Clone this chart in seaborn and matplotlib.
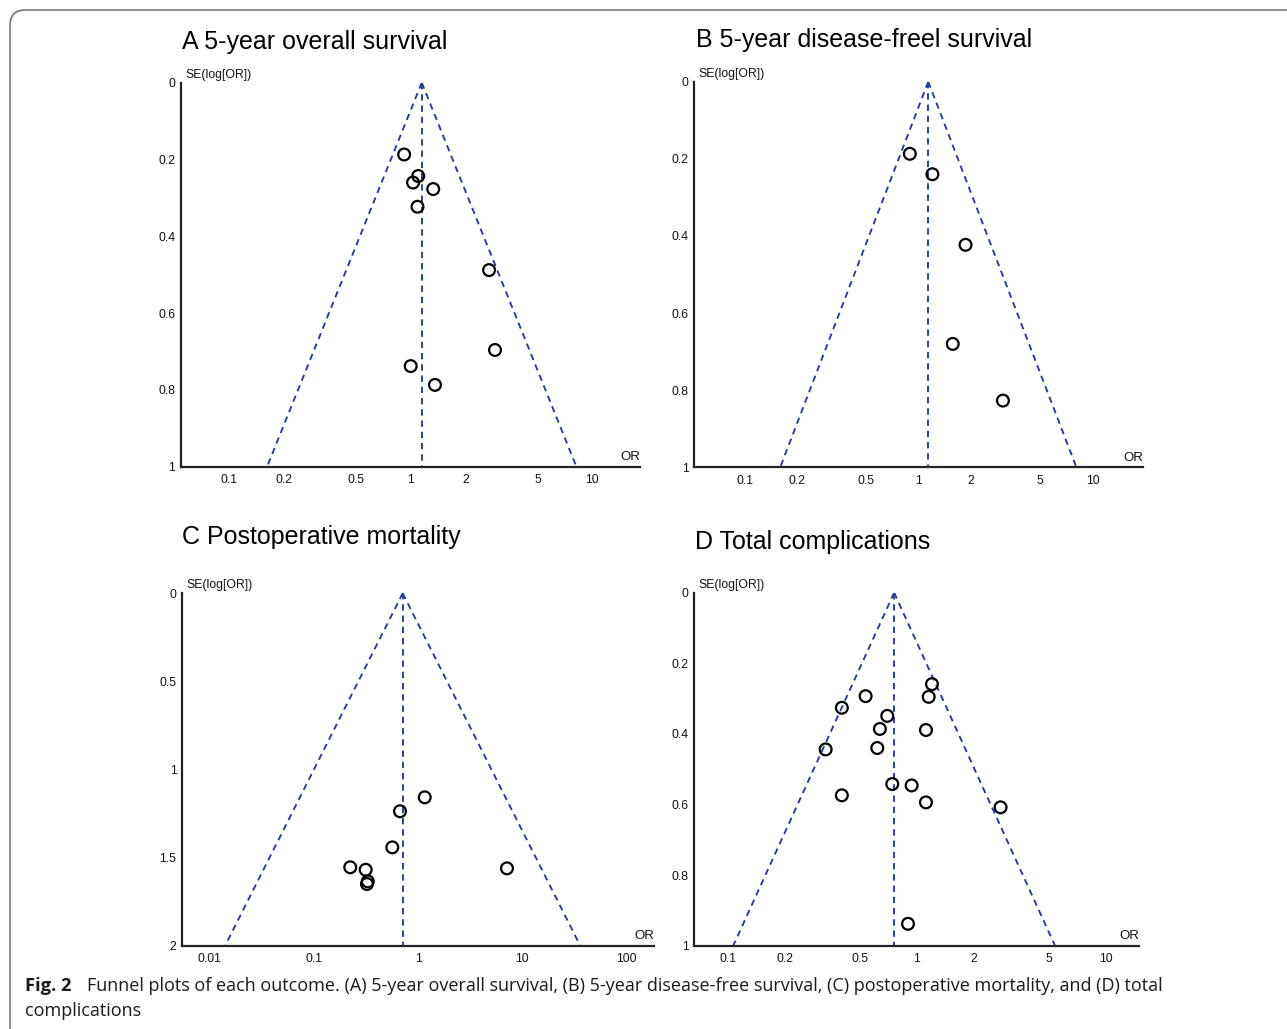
import matplotlib
matplotlib.use("Agg")
import matplotlib.pyplot as plt
from matplotlib.patches import FancyBboxPatch
import numpy as np
import pandas as pd
import seaborn as sns

# ---- data (OR, SE of log OR) ----
A_OR = [0.92, 1.10, 1.03, 1.33, 1.09, 2.70, 2.91, 1.00, 1.36]
A_SE = [0.187, 0.243, 0.260, 0.277, 0.323, 0.488, 0.696, 0.738, 0.787]
A_POOLED = 1.15

B_OR = [0.89, 1.20, 1.86, 1.57, 3.05]
B_SE = [0.187, 0.240, 0.423, 0.680, 0.827]
B_POOLED = 1.136

C_OR = [1.16, 0.672, 0.567, 0.224, 0.315, 0.330, 0.324, 7.13]
C_SE = [1.158, 1.237, 1.442, 1.555, 1.569, 1.635, 1.650, 1.561]
C_POOLED = 0.713

D_OR = [1.205, 0.537, 1.158, 0.402, 0.699, 0.639, 1.12, 0.330, 0.619,
        0.743, 0.941, 0.402, 1.12, 2.78, 0.90]
D_SE = [0.259, 0.293, 0.295, 0.326, 0.349, 0.386, 0.389, 0.444, 0.440,
        0.542, 0.546, 0.574, 0.594, 0.608, 0.938]
D_POOLED = 0.76

TITLES = ["A 5-year overall survival", "B 5-year disease-freel survival",
          "C Postoperative mortality", "D Total complications"]

OR_TICKS = [0.1, 0.2, 0.5, 1, 2, 5, 10]
OR_LABELS = ["0.1", "0.2", "0.5", "1", "2", "5", "10"]
OR_TICKS_C = [0.01, 0.1, 1, 10, 100]
OR_LABELS_C = ["0.01", "0.1", "1", "10", "100"]
SE_TICKS = [0, 0.2, 0.4, 0.6, 0.8, 1]
SE_LABELS = ["0", "0.2", "0.4", "0.6", "0.8", "1"]
SE_TICKS_C = [0, 0.5, 1, 1.5, 2]
SE_LABELS_C = ["0", "0.5", "1", "1.5", "2"]

CAPTION = ("Funnel plots of each outcome. (A) 5-year overall survival, "
           "(B) 5-year disease-free survival, (C) postoperative mortality, "
           "and (D) total")

FUNNEL_COLOR = "#1f3c9e"
AXIS_COLOR = "#222222"
W, H = 1287, 1029

sns.set_theme(style="white")
plt.rcParams["font.family"] = ["Liberation Sans", "DejaVu Sans"]

fig = plt.figure(figsize=(W / 100, H / 100), dpi=100)


def px_rect(x0, y0, x1, y1):
    return [x0 / W, 1 - y1 / H, (x1 - x0) / W, (y1 - y0) / H]


panels = [
    dict(OR=A_OR, SE=A_SE, pooled=A_POOLED, semax=1.0,
         xt=OR_TICKS, xl=OR_LABELS, yt=SE_TICKS, yl=SE_LABELS,
         xlim=(10 ** -1.266, 10 ** 1.262), rect=px_rect(180.7, 82.7, 640, 466.7),
         tpos=(182, 49.5)),
    dict(OR=B_OR, SE=B_SE, pooled=B_POOLED, semax=1.0,
         xt=OR_TICKS, xl=OR_LABELS, yt=SE_TICKS, yl=SE_LABELS,
         xlim=(10 ** -1.291, 10 ** 1.291), rect=px_rect(694, 81.7, 1143.3, 467.3),
         tpos=(696, 46.5)),
    dict(OR=C_OR, SE=C_SE, pooled=C_POOLED, semax=2.0,
         xt=OR_TICKS_C, xl=OR_LABELS_C, yt=SE_TICKS_C, yl=SE_LABELS_C,
         xlim=(10 ** -2.263, 10 ** 2.263), rect=px_rect(182, 593.3, 654, 945.7),
         tpos=(182, 544)),
    dict(OR=D_OR, SE=D_SE, pooled=D_POOLED, semax=1.0,
         xt=OR_TICKS, xl=OR_LABELS, yt=SE_TICKS, yl=SE_LABELS,
         xlim=(10 ** -1.178, 10 ** 1.178), rect=px_rect(694, 592.7, 1139.3, 945.7),
         tpos=(695, 548.5)),
]

for title, p in zip(TITLES, panels):
    ax = fig.add_axes(p["rect"])
    df = pd.DataFrame({"OR": p["OR"], "SE": p["SE"]})

    # funnel: pooled estimate +/- 1.96 SE on the log scale
    se = np.array([0.0, p["semax"]])
    lo = p["pooled"] * np.exp(-1.96 * se)
    hi = p["pooled"] * np.exp(1.96 * se)
    dash = (0, (3.4, 2.6))
    for xs in (lo, hi, [p["pooled"], p["pooled"]]):
        ax.plot(xs, se, color=FUNNEL_COLOR, lw=1.35, ls=dash, zorder=2)

    sns.scatterplot(data=df, x="OR", y="SE", ax=ax, marker="o", s=72,
                    facecolor="none", edgecolor="black", linewidth=1.6,
                    zorder=3)

    ax.set_xscale("log")
    ax.set_xlim(*p["xlim"])
    ax.set_ylim(p["semax"], 0)
    ax.set_xticks(p["xt"])
    ax.set_xticklabels(p["xl"])
    ax.xaxis.set_minor_locator(matplotlib.ticker.NullLocator())
    ax.set_yticks(p["yt"])
    ax.set_yticklabels(p["yl"])
    ax.set_xlabel("")
    ax.set_ylabel("")
    ax.grid(False)
    ax.set_facecolor("none")

    for side in ["top", "right"]:
        ax.spines[side].set_visible(False)
    for side in ["left", "bottom"]:
        ax.spines[side].set_color(AXIS_COLOR)
        ax.spines[side].set_linewidth(1.6)
    ax.tick_params(axis="both", direction="inout", length=6, width=1.2,
                   colors=AXIS_COLOR, labelsize=8.8, labelcolor="#111111")
    ax.tick_params(axis="x", pad=2.5)
    ax.tick_params(axis="y", pad=1.0)
    ax.tick_params(axis="both", which="minor", length=0)

    ax.annotate("SE(log[OR])", xy=(0, 1), xycoords="axes fraction",
                xytext=(3.5, 1.5), textcoords="offset points",
                ha="left", va="bottom", fontsize=8.8, color="#111111")
    ax.annotate("OR", xy=(1, 0), xycoords="axes fraction",
                xytext=(0, 2.5), textcoords="offset points",
                ha="right", va="bottom", fontsize=9.5, color="#111111")

    fig.text(p["tpos"][0] / W, 1 - p["tpos"][1] / H, title,
             fontsize=18, ha="left", va="baseline", color="black")

# caption
fig.text(25 / W, 1 - 991 / H, "Fig. 2", fontsize=13.2, fontweight="bold",
         family=["Open Sans", "DejaVu Sans"], ha="left", va="baseline",
         color="#1a1a1a")
fig.text(87 / W, 1 - 991 / H, CAPTION, fontsize=13.0,
         family=["Open Sans", "DejaVu Sans"], ha="left", va="baseline",
         color="#1a1a1a")
fig.text(25 / W, 1 - 1016 / H, "complications", fontsize=13.0,
         family=["Open Sans", "DejaVu Sans"], ha="left", va="baseline",
         color="#1a1a1a")

# rounded frame around the figure
frame = FancyBboxPatch((10 / W, -0.05), 1.1, 1 - 10 / H + 0.05,
                       boxstyle="round,pad=0,rounding_size=0.012",
                       transform=fig.transFigure, fill=False,
                       edgecolor="#777777", linewidth=1.2, zorder=0,
                       mutation_aspect=W / H)
fig.patches.append(frame)

fig.savefig("out.png", dpi=100)
